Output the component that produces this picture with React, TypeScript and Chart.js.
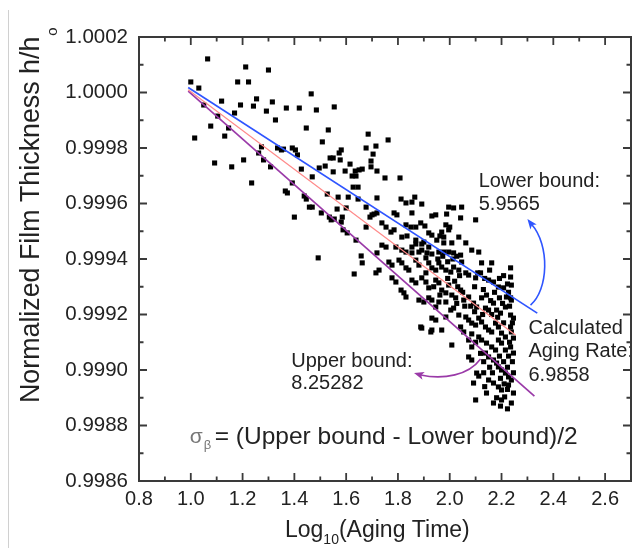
import React, { useEffect, useRef } from 'react';
import { Chart, registerables } from 'chart.js';
Chart.register(...registerables);

// ---------- axis ticks ----------
const xTickValues = [0.8, 1.0, 1.2, 1.4, 1.6, 1.8, 2.0, 2.2, 2.4, 2.6];
const yTickValues = [0.9986, 0.9988, 0.999, 0.9992, 0.9994, 0.9996, 0.9998, 1.0, 1.0002];
const xRange = [0.8, 2.7];
const yRange = [0.9986, 1.0002];

// ---------- measured points: log10(aging time) ----------
const logAgingTime = [
  1.000, 1.065, 1.031, 1.050, 1.015, 1.077, 1.092, 1.104, 1.119, 1.131,
  1.146, 1.158, 1.169, 1.181, 1.192, 1.204, 1.212, 1.223, 1.235, 1.242,
  1.254, 1.262, 1.273, 1.281, 1.292, 1.300, 1.308, 1.315, 1.327, 1.335,
  1.465, 1.369, 1.419, 1.485, 1.554, 1.446, 1.531, 1.685, 1.762, 1.508,
  1.715, 1.677, 1.581, 1.573, 1.350, 1.358, 1.392, 1.404, 1.412, 1.538,
  1.550, 1.577, 1.704, 1.696, 1.696, 1.719, 1.427, 1.496, 1.519, 1.550,
  1.615, 1.596, 1.635, 1.650, 1.662, 1.623, 1.638, 1.750, 1.808, 1.469,
  1.392, 1.627, 1.646, 1.365, 1.373, 1.438, 1.446, 1.527, 1.569, 1.608,
  1.646, 1.719, 1.812, 1.865, 1.458, 1.469, 1.565, 1.600, 1.677, 1.400,
  1.504, 1.535, 1.585, 1.708, 1.719, 1.542, 1.554, 1.581, 1.692, 1.700,
  1.677, 1.588, 1.604, 1.638, 1.492, 1.658, 1.719, 1.662, 1.631, 1.715,
  1.831, 1.854, 1.892, 1.996, 2.015, 2.100, 1.785, 1.796, 1.854, 1.931,
  1.946, 2.046, 1.738, 1.754, 1.773, 1.785, 1.831, 1.850, 1.888, 1.919,
  1.931, 1.969, 1.996, 1.985, 2.000, 2.035, 1.815, 1.835, 1.869, 1.900,
  1.950, 1.977, 2.062, 1.738, 1.754, 1.792, 1.815, 1.831, 1.854, 1.892,
  1.912, 1.958, 1.996, 2.015, 2.042, 2.085, 2.112, 2.123, 2.162, 2.235,
  2.235, 2.238, 1.727, 1.765, 1.777, 1.804, 1.815, 1.831, 1.842, 1.869,
  1.881, 1.908, 1.919, 1.931, 1.946, 1.958, 1.969, 1.985, 2.004, 2.015,
  2.035, 2.046, 2.062, 2.073, 2.100, 2.119, 2.150, 2.169, 2.188, 2.208,
  2.219, 2.235, 2.238, 1.777, 1.792, 1.812, 1.823, 1.831, 1.854, 1.869,
  1.892, 1.908, 1.919, 1.946, 1.958, 1.969, 1.985, 1.996, 2.008, 2.023,
  2.042, 2.054, 2.073, 2.092, 2.104, 2.123, 2.138, 2.150, 2.169, 2.181,
  2.196, 2.215, 2.235, 2.246, 1.881, 1.900, 1.919, 1.931, 1.946, 1.985,
  2.004, 2.015, 2.035, 2.062, 2.073, 2.085, 2.100, 2.112, 2.123, 2.138,
  2.150, 2.162, 2.177, 2.188, 2.200, 2.215, 2.235, 2.238, 2.246, 1.888,
  1.927, 1.931, 1.946, 1.985, 2.008, 2.042, 2.054, 2.073, 2.085, 2.112,
  2.123, 2.142, 2.162, 2.177, 2.188, 2.200, 2.215, 2.235, 2.246, 2.073,
  2.085, 2.138, 2.150, 2.169, 2.181, 2.188, 2.200, 2.215, 2.227, 2.238,
  2.104, 2.112, 2.092, 2.150, 2.169, 2.188, 2.200, 2.227, 2.246, 2.142,
  2.100, 2.169, 2.238, 1.958, 1.892, 1.931, 1.969, 2.042, 2.212, 2.200,
  1.988, 1.869, 1.904, 1.962, 1.977, 1.854, 1.869, 1.892, 1.919, 2.008,
  1.881, 1.931, 1.977,
  2.227, 2.231, 2.242, 2.231, 2.242, 2.246, 2.227,
  2.130, 2.142, 2.158, 2.173, 2.192, 2.204, 2.162, 2.185, 2.208, 2.127,
  2.096, 2.081, 2.058, 2.050, 2.031, 2.019, 2.038, 2.096, 2.108, 2.135,
  2.154, 2.192, 2.208, 2.223,
  2.119, 2.131, 2.154, 2.165, 2.196, 2.210, 2.223, 2.135, 2.181, 2.196,
  2.223, 2.131, 2.085, 2.100, 2.192, 2.208, 2.223,
  1.954, 1.973, 1.992, 2.012, 2.027, 1.938, 1.962, 1.992, 2.027, 1.908,
];

// ---------- measured points: normalized film thickness h/ho ----------
const filmThickness = [
  1.000038, 1.000121, 1.000016, 0.999955, 0.999836, 0.999879, 0.999746, 0.999915, 0.999969, 0.999843,
  0.999872, 0.999732, 0.999926, 1.000038, 0.999955, 0.999757, 1.000092, 1.000038, 0.999674, 0.999951,
  0.999977, 0.999782, 0.999804, 0.999757, 0.999933, 1.000081, 0.999732, 0.999966, 0.999901, 0.999800,
  0.999995, 0.999944, 0.999944, 0.999937, 0.999948, 0.999872, 0.999865, 0.999850, 0.999829, 0.999822,
  0.999807, 0.999800, 0.999793, 0.999782, 0.999793, 0.999796, 0.999800, 0.999793, 0.999775, 0.999764,
  0.999764, 0.999757, 0.999778, 0.999753, 0.999732, 0.999717, 0.999724, 0.999728, 0.999735, 0.999714,
  0.999742, 0.999717, 0.999717, 0.999721, 0.999724, 0.999699, 0.999699, 0.999692, 0.999692, 0.999696,
  0.999674, 0.999659, 0.999659, 0.999645, 0.999638, 0.999627, 0.999616, 0.999634, 0.999623, 0.999623,
  0.999616, 0.999620, 0.999616, 0.999623, 0.999587, 0.999587, 0.999580, 0.999584, 0.999587, 0.999551,
  0.999566, 0.999551, 0.999551, 0.999562, 0.999566, 0.999541, 0.999544, 0.999533, 0.999551, 0.999559,
  0.999515, 0.999505, 0.999494, 0.999468, 0.999404, 0.999411, 0.999422, 0.999386, 0.999346, 0.999350,
  0.999602, 0.999605, 0.999598, 0.999587, 0.999584, 0.999541, 0.999566, 0.999559, 0.999566, 0.999555,
  0.999559, 0.999587, 0.999530, 0.999515, 0.999497, 0.999505, 0.999523, 0.999515, 0.999530, 0.999494,
  0.999486, 0.999497, 0.999505, 0.999523, 0.999515, 0.999479, 0.999479, 0.999483, 0.999468, 0.999461,
  0.999468, 0.999458, 0.999458, 0.999450, 0.999443, 0.999443, 0.999432, 0.999425, 0.999422, 0.999432,
  0.999422, 0.999425, 0.999425, 0.999422, 0.999414, 0.999432, 0.999425, 0.999386, 0.999386, 0.999368,
  0.999335, 0.999306, 0.999360, 0.999389, 0.999378, 0.999396, 0.999386, 0.999368, 0.999360, 0.999396,
  0.999378, 0.999404, 0.999386, 0.999368, 0.999360, 0.999386, 0.999371, 0.999360, 0.999353, 0.999371,
  0.999360, 0.999389, 0.999350, 0.999342, 0.999332, 0.999350, 0.999324, 0.999317, 0.999299, 0.999296,
  0.999263, 0.999260, 0.999252, 0.999332, 0.999317, 0.999288, 0.999278, 0.999263, 0.999324, 0.999314,
  0.999332, 0.999317, 0.999296, 0.999324, 0.999314, 0.999288, 0.999278, 0.999306, 0.999270, 0.999260,
  0.999288, 0.999252, 0.999263, 0.999241, 0.999227, 0.999260, 0.999223, 0.999216, 0.999241, 0.999216,
  0.999205, 0.999227, 0.999198, 0.999187, 0.999252, 0.999245, 0.999260, 0.999252, 0.999227, 0.999245,
  0.999216, 0.999223, 0.999198, 0.999191, 0.999180, 0.999169, 0.999162, 0.999187, 0.999173, 0.999155,
  0.999144, 0.999137, 0.999169, 0.999155, 0.999133, 0.999119, 0.999155, 0.999137, 0.999115, 0.999155,
  0.999137, 0.999187, 0.999180, 0.999191, 0.999090, 0.999155, 0.999137, 0.999108, 0.999083, 0.999119,
  0.999108, 0.999097, 0.999083, 0.999072, 0.999108, 0.999097, 0.999072, 0.999083, 0.999061, 0.999047,
  0.999036, 0.999061, 0.999047, 0.999036, 0.999025, 0.999011, 0.999000, 0.998989, 0.998975, 0.998964,
  0.998989, 0.998978, 0.998953, 0.998964, 0.998953, 0.998939, 0.998928, 0.998946, 0.998917, 0.998917,
  0.998892, 0.998881, 0.998881, 0.999245, 0.999151, 0.999144, 0.999144, 0.999548, 0.998903, 0.998892,
  0.999562, 0.999515, 0.999519, 0.999483, 0.999479, 0.999443, 0.999454, 0.999454, 0.999443, 0.999458,
  0.999425, 0.999418, 0.999425,
  0.999280, 0.999230, 0.999170, 0.999100, 0.999030, 0.998990, 0.999050,
  0.999290, 0.999270, 0.999250, 0.999280, 0.999260, 0.999240, 0.999200, 0.999190, 0.999170, 0.999200,
  0.999210, 0.999230, 0.999230, 0.999280, 0.999300, 0.999320, 0.999340, 0.999300, 0.999350, 0.999330,
  0.999360, 0.999330, 0.999340, 0.999310,
  0.999060, 0.999030, 0.999010, 0.998990, 0.998970, 0.998950, 0.998930, 0.998940, 0.998900, 0.998870,
  0.998860, 0.998990, 0.999130, 0.999100, 0.999050, 0.999030, 0.999010,
  0.999400, 0.999410, 0.999390, 0.999400, 0.999410, 0.999300, 0.999270, 0.999330, 0.999240, 0.999350,
];

// ---------- fitted lines (end points) ----------
const lowerBoundX = [0.99, 2.338];
const lowerBoundY = [1.000018, 0.999205];
const calculatedX = [0.99, 2.254];
const calculatedY = [1.00001, 0.999126];
const upperBoundX = [0.99, 2.327];
const upperBoundY = [1.000005, 0.998906];

// ---------- annotation texts (data coordinates) ----------
const noteTexts = ['Lower bound:', '5.9565', 'Calculated', 'Aging Rate:', '6.9858', 'Upper bound:', '8.25282'];
const noteX = [2.112, 2.112, 2.304, 2.304, 2.304, 1.388, 1.388];
const noteY = [0.999681, 0.999595, 0.999151, 0.999068, 0.998982, 0.999032, 0.99895];

// curved arrows: start, control1, control2, end, tip
const blueArrowX = [2.312, 2.381, 2.388, 2.315, 2.300];
const blueArrowY = [0.999234, 0.999288, 0.99945, 0.999526, 0.999544];
const purpleArrowX = [2.119, 2.073, 1.977, 1.888, 1.862];
const purpleArrowY = [0.99904, 0.998982, 0.998964, 0.998982, 0.998989];

const BLUE = '#2f55ff';
const RED = '#ff8a8a';
const PURPLE = '#9a3aa8';
const INK = '#222222';
const FONT = '"Liberation Sans", Arial, sans-serif';

const decorPlugin = {
  id: 'decor',
  afterDatasetsDraw(chart: any) {
    const { ctx, chartArea: a, scales } = chart;
    const xs = scales.x;
    const ys = scales.y;
    const px = (v: number) => xs.getPixelForValue(v);
    const py = (v: number) => ys.getPixelForValue(v);
    ctx.save();

    // annotation texts
    ctx.fillStyle = INK;
    ctx.font = `20px ${FONT}`;
    ctx.textAlign = 'left';
    ctx.textBaseline = 'middle';
    noteTexts.forEach((t, i) => ctx.fillText(t, px(noteX[i]), py(noteY[i])));

    // equation
    const eqX = px(0.996);
    const eqY = py(0.998759);
    ctx.fillStyle = '#777';
    ctx.font = `21px ${FONT}`;
    ctx.fillText('σ', eqX, eqY);
    const sw = ctx.measureText('σ').width;
    ctx.font = `13px ${FONT}`;
    ctx.fillText('β', eqX + sw + 1, eqY + 9);
    ctx.fillStyle = INK;
    ctx.font = `24.5px ${FONT}`;
    ctx.fillText('= (Upper bound - Lower bound)/2', eqX + sw + 12, eqY);

    // arrows
    const drawArrow = (ax: number[], ay: number[], color: string) => {
      const p = ax.map((v, i) => [px(v), py(ay[i])]);
      ctx.strokeStyle = color;
      ctx.fillStyle = color;
      ctx.lineWidth = 1.6;
      ctx.beginPath();
      ctx.moveTo(p[0][0], p[0][1]);
      ctx.bezierCurveTo(p[1][0], p[1][1], p[2][0], p[2][1], p[3][0], p[3][1]);
      ctx.stroke();
      const tip = p[4];
      const dx = tip[0] - p[3][0];
      const dy = tip[1] - p[3][1];
      const len = Math.hypot(dx, dy) || 1;
      const ux = dx / len, uy = dy / len;
      const hl = 10, hw = 4;
      const bx = tip[0] - ux * hl, by = tip[1] - uy * hl;
      ctx.beginPath();
      ctx.moveTo(tip[0], tip[1]);
      ctx.lineTo(bx - uy * hw, by + ux * hw);
      ctx.lineTo(bx + ux * 2.5, by + uy * 2.5);
      ctx.lineTo(bx + uy * hw, by - ux * hw);
      ctx.closePath();
      ctx.fill();
    };
    drawArrow(blueArrowX, blueArrowY, BLUE);
    drawArrow(purpleArrowX, purpleArrowY, PURPLE);

    // frame
    ctx.strokeStyle = '#3a3a3a';
    ctx.lineWidth = 2;
    ctx.strokeRect(a.left, a.top, a.right - a.left, a.bottom - a.top);

    // inward ticks on all four sides
    ctx.lineWidth = 1.8;
    const major = 8, minor = 4.5;
    const xStep = xTickValues[1] - xTickValues[0];
    for (let i = 0; i < xTickValues.length; i++) {
      const vals = [[xTickValues[i], major], [xTickValues[i] + xStep / 2, minor]];
      vals.forEach(([v, l]) => {
        if (v > xRange[1] + 1e-9) return;
        const x = px(v);
        ctx.beginPath();
        ctx.moveTo(x, a.bottom); ctx.lineTo(x, a.bottom - l);
        ctx.moveTo(x, a.top); ctx.lineTo(x, a.top + l);
        ctx.stroke();
      });
    }
    const yStep = yTickValues[1] - yTickValues[0];
    for (let i = 0; i < yTickValues.length; i++) {
      const vals = [[yTickValues[i], major], [yTickValues[i] + yStep / 2, minor]];
      vals.forEach(([v, l]) => {
        if (v > yRange[1] + 1e-9) return;
        const y = py(v);
        ctx.beginPath();
        ctx.moveTo(a.left, y); ctx.lineTo(a.left + l, y);
        ctx.moveTo(a.right, y); ctx.lineTo(a.right - l, y);
        ctx.stroke();
      });
    }
    ctx.restore();
  },
  afterDraw(chart: any) {
    const { ctx, chartArea: a } = chart;
    ctx.save();
    // left page edge line
    ctx.strokeStyle = '#d0d0d0';
    ctx.lineWidth = 1;
    ctx.beginPath();
    ctx.moveTo(8.5, 10); ctx.lineTo(8.5, 548);
    ctx.stroke();

    ctx.fillStyle = INK;
    ctx.textBaseline = 'alphabetic';
    ctx.textAlign = 'left';
    // x title
    let x0 = a.left + 146;
    const yb = a.bottom + 56;
    ctx.font = `23px ${FONT}`;
    ctx.fillText('Log', x0, yb);
    x0 += ctx.measureText('Log').width;
    ctx.font = `14px ${FONT}`;
    ctx.fillText('10', x0, yb + 7);
    x0 += ctx.measureText('10').width;
    ctx.font = `23px ${FONT}`;
    ctx.fillText('(Aging Time)', x0, yb);

    // y title (rotated)
    ctx.translate(39, 403);
    ctx.rotate(-Math.PI / 2);
    ctx.font = `26.8px ${FONT}`;
    const main = 'Normalized Film Thickness h/h';
    ctx.fillText(main, 0, 0);
    const w = ctx.measureText(main).width;
    ctx.font = `15px ${FONT}`;
    ctx.fillText('o', w + 1, 18);
    ctx.restore();
  },
};

export default function App() {
  const ref = useRef<HTMLCanvasElement | null>(null);
  useEffect(() => {
    if (!ref.current) return;
    const points = logAgingTime.map((x, i) => ({ x, y: filmThickness[i] }));
    const line = (xs: number[], ys: number[]) => xs.map((x, i) => ({ x, y: ys[i] }));
    const chart = new Chart(ref.current, {
      type: 'scatter',
      data: {
        datasets: [
          {
            label: 'Lower bound',
            data: line(lowerBoundX, lowerBoundY),
            showLine: true,
            borderColor: BLUE,
            borderWidth: 1.7,
            pointRadius: 0,
            order: 1,
          },
          {
            label: 'Calculated',
            data: line(calculatedX, calculatedY),
            showLine: true,
            borderColor: RED,
            borderWidth: 1.2,
            pointRadius: 0,
            order: 1,
          },
          {
            label: 'Upper bound',
            data: line(upperBoundX, upperBoundY),
            showLine: true,
            borderColor: PURPLE,
            borderWidth: 1.7,
            pointRadius: 0,
            order: 1,
          },
          {
            label: 'Data',
            data: points,
            pointStyle: 'rect',
            pointRadius: 3.6,
            pointBackgroundColor: '#000',
            pointBorderWidth: 0,
            borderWidth: 0,
            order: 3,
          },
        ],
      },
      options: {
        animation: false,
        responsive: false,
        events: [],
        layout: { padding: { left: 0, right: 2, top: 37, bottom: 0 } },
        plugins: { legend: { display: false }, tooltip: { enabled: false } },
        scales: {
          x: {
            type: 'linear',
            min: xRange[0],
            max: xRange[1],
            afterBuildTicks: (s: any) => { s.ticks = xTickValues.map((v) => ({ value: v })); },
            afterFit: (s: any) => { s.height = 67; },
            grid: { display: false, drawTicks: false },
            border: { display: false },
            ticks: {
              color: INK,
              padding: 6,
              maxRotation: 0,
              autoSkip: false,
              font: { family: FONT, size: 20 },
              callback: (v: any) => Number(v).toFixed(1),
            },
          },
          y: {
            type: 'linear',
            min: yRange[0],
            max: yRange[1],
            afterBuildTicks: (s: any) => { s.ticks = yTickValues.map((v) => ({ value: v })); },
            afterFit: (s: any) => { s.width = 139; },
            grid: { display: false, drawTicks: false },
            border: { display: false },
            ticks: {
              color: INK,
              padding: 11,
              autoSkip: false,
              font: { family: FONT, size: 20.5 },
              callback: (v: any) => Number(v).toFixed(4),
            },
          },
        },
      },
      plugins: [decorPlugin],
    });
    return () => chart.destroy();
  }, []);
  return (
    <canvas
      ref={ref}
      width={635}
      height={548}
      style={{ position: 'absolute', left: 0, top: 0, width: 635, height: 548 }}
    />
  );
}
